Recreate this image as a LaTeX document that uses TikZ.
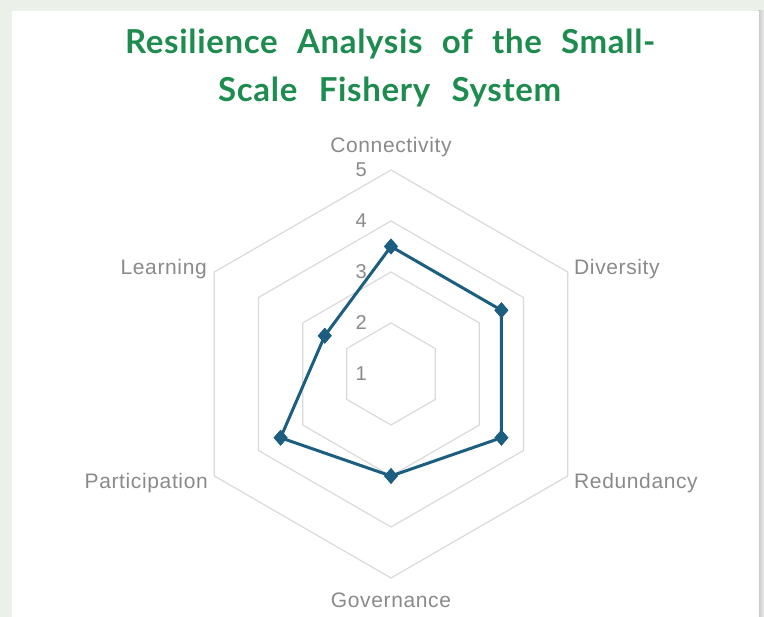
\documentclass[tikz,border=0pt]{standalone}
\usepackage{fontspec}
\setmainfont{Liberation Sans}
\newfontfamily\labelfont[LetterSpace=3]{Liberation Sans}
\newfontfamily\titlefont[LetterSpace=2]{Lato}
\usetikzlibrary{shapes.geometric}
\definecolor{bggreen}{HTML}{EBF1E8}
\definecolor{titlegreen}{HTML}{1E8C4E}
\definecolor{gridgray}{HTML}{DADADA}
\definecolor{labelgray}{HTML}{8A8A8A}
\definecolor{serieblue}{HTML}{1B5E80}
\tikzset{
  gridline/.style={draw=gridgray, line width=1.2pt, line join=miter},
  series/.style={draw=serieblue, line width=3pt, line join=round},
  datamark/.style={diamond, fill=serieblue, draw=none, inner sep=0pt, minimum width=14pt, minimum height=16pt},
  catlabel/.style={text=labelgray, font=\labelfont\fontsize{21}{25}\selectfont, inner sep=0pt},
  numlabel/.style={text=labelgray, font=\fontsize{20}{24}\selectfont, inner sep=0pt, anchor=base east},
  titleline/.style={text=titlegreen, font=\titlefont\bfseries\fontsize{33}{40}\selectfont, inner sep=0pt, anchor=base west}
}
\begin{document}
\begin{tikzpicture}[x=1pt,y=1pt]
\useasboundingbox (0,0) rectangle (764,617);
\fill[bggreen] (0,0) rectangle (764,617);
\shade[left color=gray!45, right color=gray!15] (758,0) rectangle (764,606);
\fill[white] (12,0) rectangle (759,606);
% title
\node[titleline] (t1) at (125,563) {\makebox[530pt][s]{Resilience Analysis of the Small-}};
\node[titleline] (t2) at (218,515.5) {\makebox[343pt][s]{Scale Fishery System}};
% grid
\begin{scope}[shift={(391,243)}]
\foreach \r in {51,102,153,204}
  \draw[gridline] (90:\r) -- (30:\r) -- (-30:\r) -- (-90:\r) -- (-150:\r) -- (150:\r) -- cycle;
\node[datamark] (p1) at (90:127.5) {};
\node[datamark] (p2) at (30:127.5) {};
\node[datamark] (p3) at (-30:127.5) {};
\node[datamark] (p4) at (-90:102) {};
\node[datamark] (p5) at (-150:127.5) {};
\node[datamark] (p6) at (150:76.5) {};
\end{scope}
\draw[series] (p1.center) -- (p2.center) -- (p3.center) -- (p4.center) -- (p5.center) -- (p6.center) -- cycle;
\foreach \p in {p1,p2,p3,p4,p5,p6} \node[datamark] at (\p) {};
% axis numbers
\node[numlabel] (n1) at (367,236) {1};
\node[numlabel] (n2) at (367,287) {2};
\node[numlabel] (n3) at (367,338) {3};
\node[numlabel] (n4) at (367,389) {4};
\node[numlabel] (n5) at (367,440) {5};
% category labels
\node[catlabel, anchor=base] (lc) at (391,464) {Connectivity};
\node[catlabel, anchor=base west] (ld) at (574,342) {Diversity};
\node[catlabel, anchor=base west] (lr) at (574,128) {Redundancy};
\node[catlabel, anchor=base] (lg) at (391,9) {Governance};
\node[catlabel, anchor=base east] (lp) at (208,128) {Participation};
\node[catlabel, anchor=base east] (ll) at (207,342) {Learning};
\end{tikzpicture}
\end{document}
